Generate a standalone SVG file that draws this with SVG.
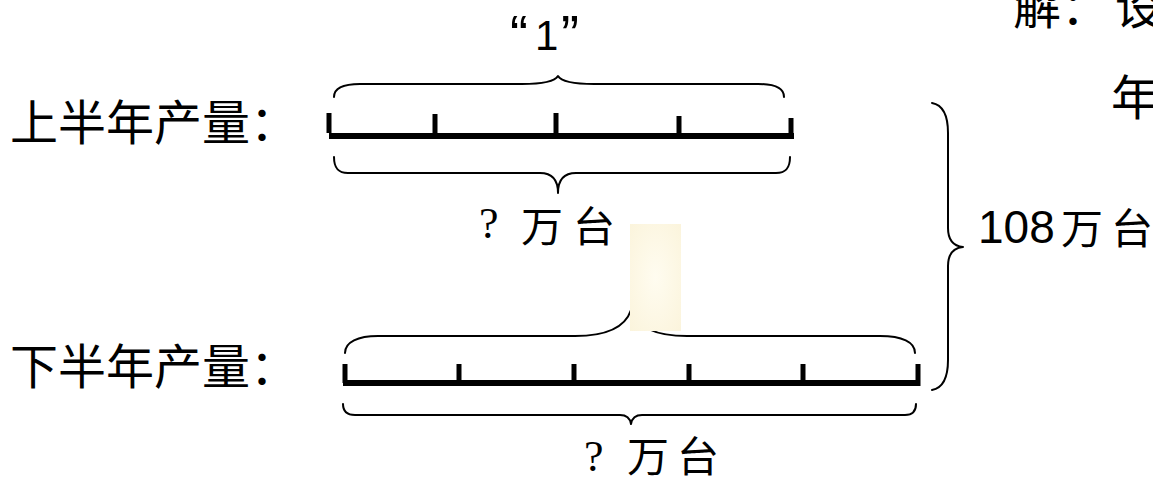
<svg xmlns="http://www.w3.org/2000/svg" width="1153" height="479" viewBox="0 0 1153 479">
<defs>
<style>
.cjk{font-family:"Noto Sans CJK SC","Noto Sans",sans-serif;fill:#000}
.lat{font-family:"Liberation Sans",Arial,sans-serif;fill:#000}
.ser{font-family:"Liberation Serif","Times New Roman",serif;fill:#000}
.brace{fill:none;stroke:#000;stroke-width:2;stroke-linecap:round;stroke-linejoin:round}
.bar{fill:none;stroke:#000;stroke-width:6}
.tick{fill:none;stroke:#000;stroke-width:5}
</style>
<radialGradient id="noteGrad" cx="0.5" cy="0.5" r="0.7">
<stop offset="0" stop-color="#FFFCF0"/>
<stop offset="1" stop-color="#FBF4DC"/>
</radialGradient>
</defs>
<rect width="1153" height="479" fill="#fff"/>

<g id="label-top">
<text class="cjk" x="10" y="140" font-size="48">上半年产量：</text>
</g>
<g id="label-bottom">
<text class="cjk" x="10" y="384" font-size="48">下半年产量：</text>
</g>
<g id="label-one">
<text class="lat" y="50"><tspan x="510" font-size="54" dy="3">“</tspan><tspan x="535" font-size="42" dy="-3">1</tspan><tspan x="561" font-size="54" dy="3">”</tspan></text>
</g>
<g id="label-top-q">
<text class="ser" x="479" y="238" font-size="44">?</text>
<text class="cjk" y="242" font-size="42"><tspan x="521">万</tspan><tspan x="573">台</tspan></text>
</g>
<g id="label-bottom-q">
<text class="ser" x="584" y="471" font-size="44">?</text>
<text class="cjk" y="472" font-size="42"><tspan x="627">万</tspan><tspan x="677">台</tspan></text>
</g>
<g id="label-total">
<text class="lat" x="978" y="243" font-size="46">108</text>
<text class="cjk" y="244" font-size="42"><tspan x="1061">万</tspan><tspan x="1111">台</tspan></text>
</g>
<g id="label-solution">
<text class="cjk" y="24" font-size="48"><tspan x="1013">解：</tspan><tspan x="1115">设</tspan></text>
<text class="cjk" x="1111" y="115" font-size="48">年</text>
</g>

<g id="bar-top">
<line class="bar" x1="329" y1="136" x2="794" y2="136"/>
<line class="tick" x1="329" y1="113" x2="329" y2="133"/>
<line class="tick" x1="435" y1="114" x2="435" y2="136"/>
<line class="tick" x1="556" y1="113" x2="556" y2="136"/>
<line class="tick" x1="679" y1="116" x2="679" y2="136"/>
<line class="tick" x1="791" y1="118" x2="791" y2="136"/>
</g>
<g id="bar-bottom">
<line class="bar" x1="343" y1="383" x2="920" y2="383"/>
<line class="tick" x1="345" y1="364" x2="345" y2="383"/>
<line class="tick" x1="459" y1="364" x2="459" y2="383"/>
<line class="tick" x1="574" y1="364" x2="574" y2="383"/>
<line class="tick" x1="689" y1="364" x2="689" y2="383"/>
<line class="tick" x1="803" y1="364" x2="803" y2="383"/>
<line class="tick" x1="918" y1="364" x2="918" y2="386"/>
</g>

<g id="connectors">
<path class="brace" d="M334,97 C334,88 344,84 360,84 L522,84 C545,84 555,81 558,76 C561,81 571,84 594,84 L758,84 C774,84 784,88 784,97"/>
<path class="brace" d="M334,157 C334,168 338,173 348,173 L540,173 C552,173 558,180 558,193 C558,180 564,173 576,173 L776,173 C786,173 790,168 790,157"/>
<path class="brace" d="M345,353 C345,342 358,336 378,336 L575,336 C605,336 625,328 631,310 C637,328 657,336 687,336 L880,336 C902,336 915,342 915,353"/>
<path class="brace" d="M343,404 C343,412 347,415 355,415 L620,415 C626,415 630,418 631,424 C632,418 636,415 642,415 L905,415 C912,415 916,412 916,404"/>
<path class="brace" d="M932,103 C943,105 948,115 948,133 L948,228 C948,240 953,246 963,247 C953,248 948,254 948,266 L948,360 C948,378 943,388 932,390"/>
</g>

<g id="note">
<rect x="630" y="224" width="51" height="107" fill="url(#noteGrad)"/>
</g>
</svg>
